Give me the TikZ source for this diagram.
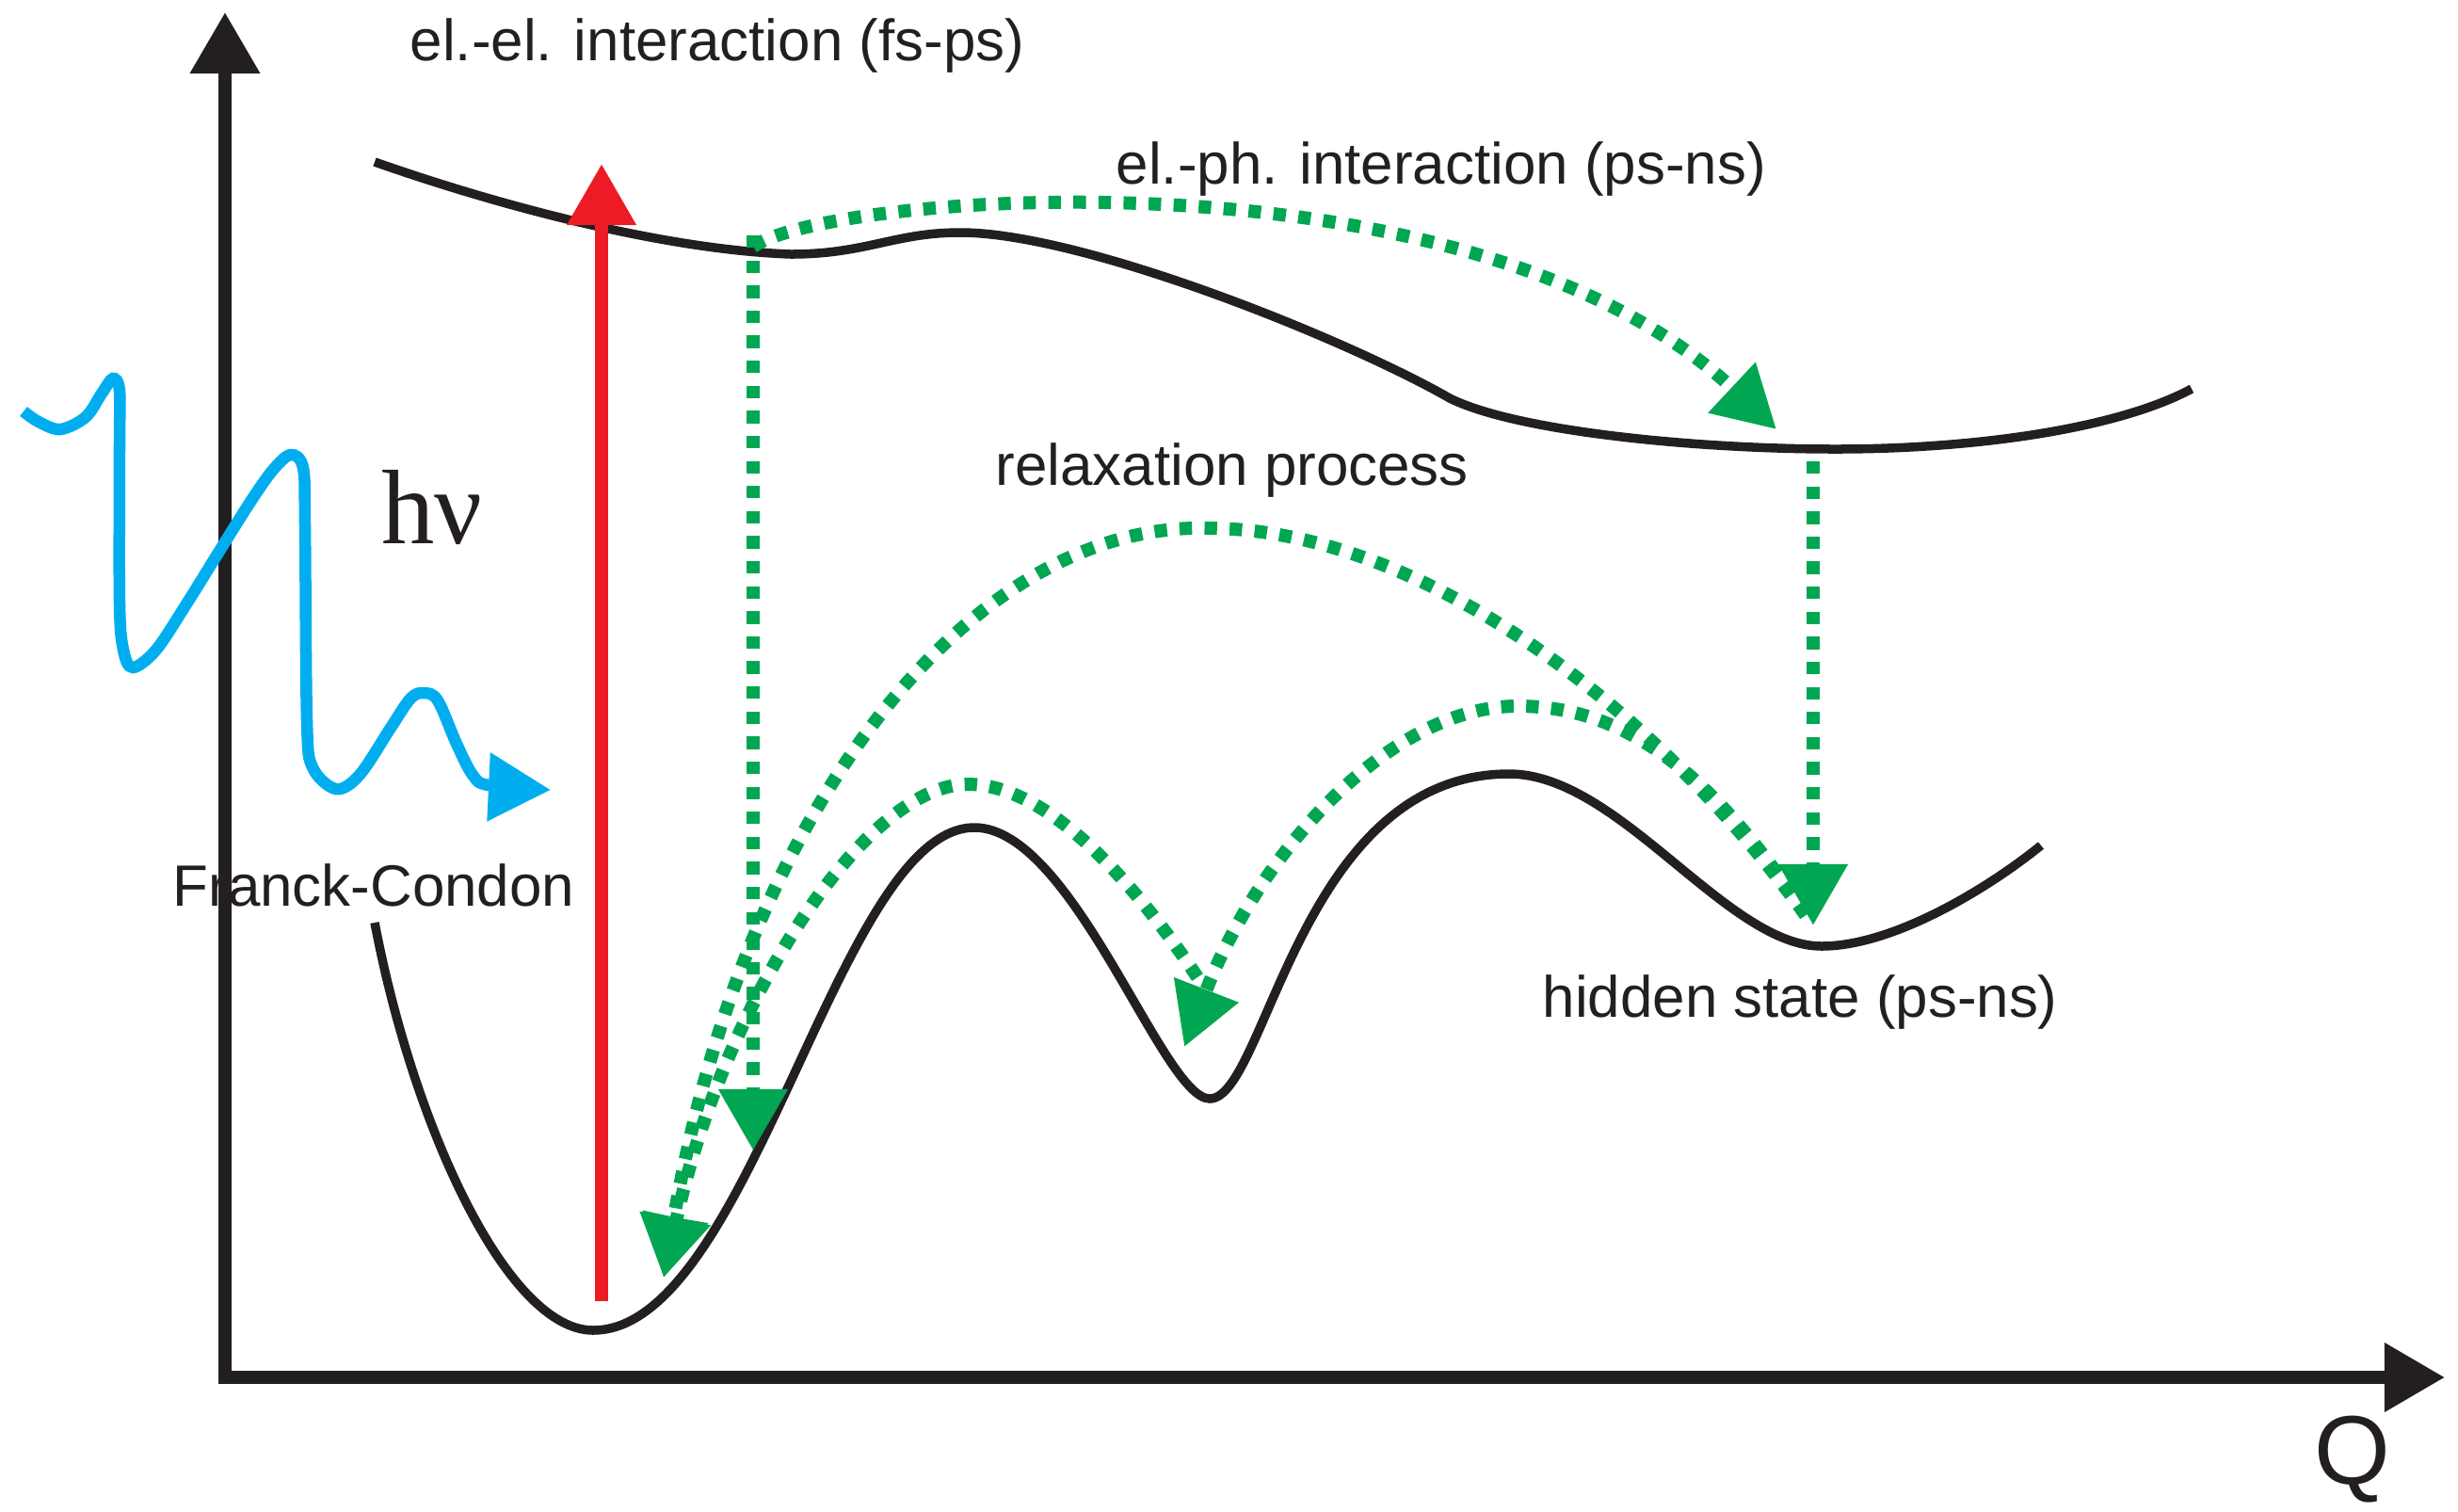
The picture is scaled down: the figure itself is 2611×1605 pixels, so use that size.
\documentclass[tikz,border=0pt]{standalone}
\usepackage{fontspec}
\setmainfont{Liberation Sans}
\newfontfamily\hvfont{Liberation Serif}
\usepackage{xcolor}
\usepackage{tikz}
\usetikzlibrary{arrows.meta,positioning,calc}

\definecolor{pesblack}{HTML}{231F20}
\definecolor{pumpred}{HTML}{ED1C24}
\definecolor{relaxgreen}{HTML}{00A651}
\definecolor{photonblue}{HTML}{00AEEF}

\begin{document}
\begin{tikzpicture}[
  x=0.01cm, y=-0.01cm,
  font=\fontsize{17.6}{21}\selectfont,
  lbl/.style={anchor=base west, inner sep=0pt, text=pesblack},
  axis/.style={line width=1.36mm, pesblack, miter limit=4,
    {Triangle[length=6.5mm, width=7.1mm]}-{Triangle[length=6.4mm, width=7mm]}},
  pes/.style={line width=0.95mm, pesblack},
  pump/.style={line width=1.4mm, pumpred, -{Triangle[length=6.5mm, width=7mm]}},
  photon/.style={line width=1.25mm, photonblue, -{Triangle[length=6.6mm, width=7mm]}},
  relax/.style={line width=1.4mm, relaxgreen, dash pattern=on 1.33mm off 1.33mm,
    -{Triangle[length=6.5mm, width=7mm]}}
]
  \useasboundingbox (0,0) rectangle (2611,1605);

  % axes
  \coordinate (origin) at (239,1463);
  \coordinate (ytip) at (239,13);
  \coordinate (xtip) at (2597,1463);
  \draw[axis] (ytip) -- (origin) -- (xtip);

  % potential energy surfaces
  \draw[pes] (398,172) .. controls (520,215) and (700,265) .. (840,270)
    .. controls (920,270) and (950,247) .. (1020,247)
    .. controls (1150,247) and (1430,360) .. (1540,423)
    .. controls (1610,458) and (1800,477) .. (1950,477)
    .. controls (2100,477) and (2250,455) .. (2328,413);
  \draw[pes] (398,980) .. controls (440,1200) and (540,1413) .. (630,1413)
    .. controls (798,1413) and (890,879) .. (1035,879)
    .. controls (1140,879) and (1235,1167) .. (1285,1167)
    .. controls (1345,1167) and (1380,822) .. (1603,822)
    .. controls (1720,822) and (1834,1005) .. (1935,1005)
    .. controls (2010,1005) and (2110,945) .. (2168,898);

  % incoming photon
  \draw[photon] plot[smooth, tension=0.55] coordinates {(25,437) (41,448) (64,456)
    (91,443) (108,418) (120,402) (127,415) (127,474) (127,640) (131,690) (141,709)
    (166,690) (199,640) (232,587) (266,533) (290,499) (309,483) (322,497) (324,557)
    (326,765) (332,815) (357,838) (382,823) (415,773) (436,742) (450,736) (465,744)
    (485,790) (502,823) (519,834) (585,839)};

  % Franck-Condon excitation
  \coordinate (fc) at (639,1382);
  \coordinate (exc) at (639,174);
  \draw[pump] (fc) -- (exc);

  % relaxation paths
  \coordinate (hot) at (800,262);
  \coordinate (hotend) at (800,1222);
  \coordinate (es) at (1887,456);
  \coordinate (esdown) at (1926,490);
  \coordinate (hs) at (1926,983);
  \coordinate (hsout) at (1918,972);
  \coordinate (ms) at (1258,1112);
  \coordinate (msout) at (1272,1038);
  \coordinate (gs) at (705,1357);

  \draw[relax] (hot) .. controls (880,205) and (1560,150) .. (es);
  \draw[relax] (hsout) .. controls (1750,740) and (1500,561) .. (1282,561)
    .. controls (1030,555) and (790,860) .. (gs);
  \draw[relax] (hsout) .. controls (1800,790) and (1700,750) .. (1612,750)
    .. controls (1480,750) and (1340,900) .. (ms);
  \draw[relax] (msout) .. controls (1200,930) and (1110,833) .. (1028,833)
    .. controls (920,833) and (770,1060) .. (gs);
  \draw[relax] (800,250) -- (hotend);
  \draw[relax] (esdown) -- (hs);

  % labels
  \node[lbl] (elel) at (435,64) {el.-el. interaction (fs-ps)};
  \node[lbl] (elph) at (1185,195) {el.-ph. interaction (ps-ns)};
  \node[lbl] (relaxlbl) at (1057,515) {relaxation process};
  \node[lbl] (hidden) at (1638,1080) {hidden state (ps-ns)};
  \node[lbl] (fclbl) at (183,962) {Franck-Condon};
  \node[lbl, font=\hvfont\fontsize{32}{36}\selectfont] (hv) at (405,577) {hν};
  \node[lbl, font=\fontsize{29.5}{34}\selectfont] (qlbl) at (2458,1576) {Q};
\end{tikzpicture}
\end{document}
